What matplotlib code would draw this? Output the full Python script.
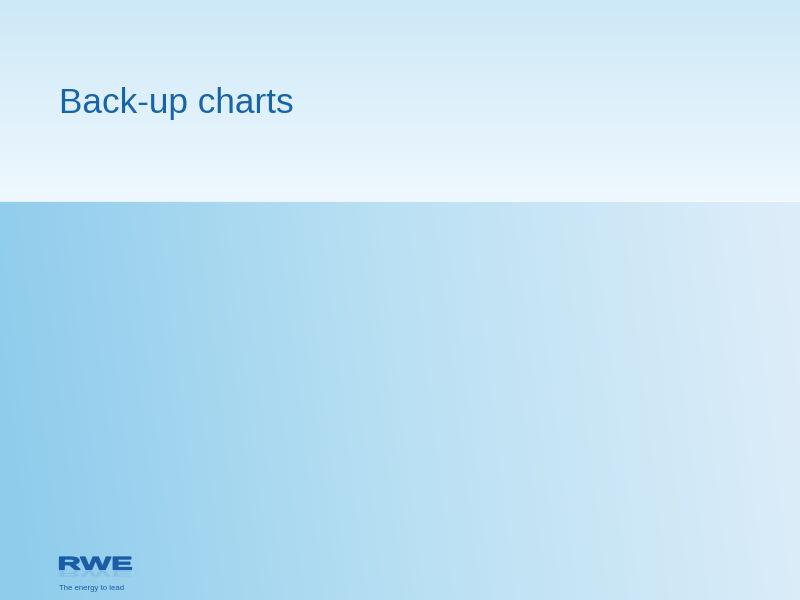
import numpy as np
import matplotlib
matplotlib.use("Agg")
import matplotlib.pyplot as plt
from matplotlib.colors import to_rgb
from matplotlib.textpath import TextPath
from matplotlib.patches import PathPatch
from matplotlib.font_manager import FontProperties
from matplotlib.transforms import Affine2D

# slide content
title_text = "Back-up charts"
logo_text = "RWE"
tagline_text = "The energy to lead"

# colours picked from the slide
top_band_colors = ["#cde8f7", "#eff8fe"]      # top -> bottom of header band
body_colors = ["#8fccec", "#b9e0f3", "#dcedf9"]  # left -> right of body
text_blue = "#1764a9"
logo_blue = "#1a5ca6"

W, H = 800, 600
band_h = 201

fig = plt.figure(figsize=(8, 6), dpi=100)
ax = fig.add_axes([0, 0, 1, 1])
ax.set_xlim(0, W)
ax.set_ylim(H, 0)
ax.axis("off")

# ── header band: vertical gradient ──
c0, c1 = np.array(to_rgb(top_band_colors[0])), np.array(to_rgb(top_band_colors[1]))
t = np.linspace(0, 1, band_h)[:, None, None]
band = c0 + (c1 - c0) * t
band = np.repeat(band, 2, axis=1)
ax.imshow(band, extent=[0, W, band_h, 0], aspect="auto", interpolation="bilinear")

# ── body: mostly horizontal gradient, slightly tilted ──
xs = np.linspace(0, 1, 400)
ys = np.linspace(0, 1, 200)
X, Y = np.meshgrid(xs, ys)
tt = np.clip(X + 0.06 * (0.5 - Y), 0, 1)
stops = [np.array(to_rgb(c)) for c in body_colors]
lo = tt < 0.5
f = (tt / 0.5)[..., None]
body = np.where(lo[..., None], stops[0] + (stops[1] - stops[0]) * f,
                stops[1] + (stops[2] - stops[1]) * (f - 1))
ax.imshow(body, extent=[0, W, H, band_h], aspect="auto", interpolation="bilinear")

# thin highlight where the band meets the body
ax.plot([0, W], [band_h, band_h], color="white", lw=0.8, alpha=0.7)

# ── title ──
ax.text(59, 113, title_text, fontsize=25.3, color=text_blue,
        family="Liberation Sans", ha="left", va="baseline")

# ── logo (wide, heavy letters) with faint reflection ──
fp = FontProperties(family="Liberation Sans", weight="bold")
tp = TextPath((0, 0), logo_text, size=20, prop=fp)
ext = tp.get_extents()
sx = 72 / ext.width
sy = 12.5 / ext.height
x_off = 59.5 - ext.x0 * sx
logo = Affine2D().translate(0, -ext.y0).scale(sx, -sy).translate(x_off, 569.5)
ax.add_patch(PathPatch(logo.transform_path(tp), facecolor=logo_blue,
                       edgecolor=logo_blue, lw=0.9))
refl = Affine2D().translate(0, -ext.y0).scale(sx, sy * 0.45).translate(x_off, 571)
ax.add_patch(PathPatch(refl.transform_path(tp), color=logo_blue, lw=0, alpha=0.12))

ax.text(59, 589.5, tagline_text, fontsize=5.6, color=logo_blue,
        family=["Liberation Sans Narrow", "Liberation Sans"], ha="left", va="baseline")

fig.savefig("out.png", dpi=100)
